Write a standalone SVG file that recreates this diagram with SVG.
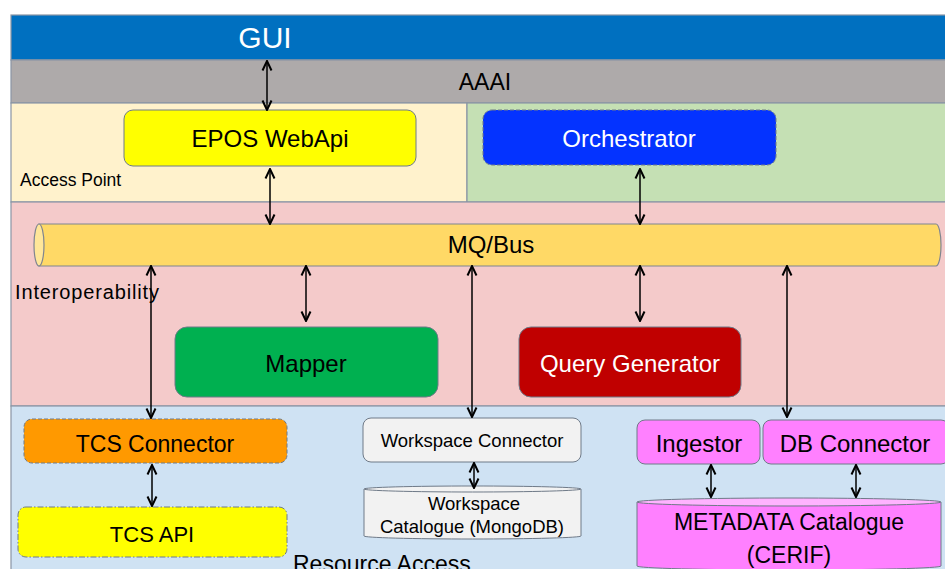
<svg xmlns="http://www.w3.org/2000/svg" width="945" height="569" viewBox="0 0 945 569">
<style>
text{font-family:"Liberation Sans",Arial,sans-serif;fill:#000}
.band{stroke:#8a95a5;stroke-width:1.2}
.node{stroke:#6f7a88;stroke-width:1}
.dash{stroke-dasharray:4 2}
.dashdot{stroke-dasharray:6 2 1.5 2}
.c{text-anchor:middle}
.lbl{font-size:24px}
.w{fill:#fff}
.conn line{stroke:#000;stroke-width:1.5;marker-start:url(#arr);marker-end:url(#arr)}
</style>
<defs>
<marker id="arr" viewBox="0 0 12 12" markerWidth="12" markerHeight="12" refX="11" refY="6" orient="auto-start-reverse" markerUnits="userSpaceOnUse">
<path d="M1.5,1.5 L11,6 L1.5,10.5" fill="none" stroke="#000" stroke-width="2"/>
</marker>
</defs>
<rect width="945" height="569" fill="#fff"/>
<g id="bands">
<rect class="band" x="11" y="15" width="940" height="45" fill="#0070C0"/>
<rect class="band" x="11" y="60" width="940" height="43" fill="#AEAAAA"/>
<rect class="band" x="11" y="103" width="456" height="99" fill="#FFF2CC"/>
<rect class="band" x="467" y="103" width="484" height="99" fill="#C5E0B4"/>
<rect class="band" x="11" y="202" width="940" height="204" fill="#F4CACA"/>
<rect class="band" x="11" y="406" width="940" height="170" fill="#CFE2F3"/>
<text class="c w" x="265" y="48" font-size="30">GUI</text>
<text class="c" x="485" y="90" font-size="23">AAAI</text>
<text x="20" y="186" font-size="17.5">Access Point</text>
<text x="15" y="299" font-size="20" textLength="144" lengthAdjust="spacing">Interoperability</text>
<text x="293" y="572" font-size="23">Resource Access</text>
</g>
<g id="epos-webapi">
<rect class="node" x="124" y="110" width="292" height="56" rx="9" fill="#FFFF00"/>
<text class="c lbl" x="270" y="147" font-size="23">EPOS WebApi</text>
</g>
<g id="orchestrator">
<rect class="node dash" x="483" y="110" width="293" height="55" rx="9" fill="#0433FF"/>
<text class="c lbl w" x="629" y="147">Orchestrator</text>
</g>
<g id="mq-bus">
<path d="M39,224 H936 A5,21 0 0 1 936,266 H39 Z" fill="#FFD966" stroke="#7f8590" stroke-width="1.2"/>
<ellipse cx="39" cy="245" rx="5" ry="21" fill="#FFE699" stroke="#7f8590" stroke-width="1.2"/>
<text class="c lbl" x="491" y="253">MQ/Bus</text>
</g>
<g id="mapper">
<rect class="node" x="175" y="327" width="263" height="70" rx="12" fill="#00B050"/>
<text class="c lbl" x="306" y="372">Mapper</text>
</g>
<g id="query-generator">
<rect class="node" x="519" y="327" width="222" height="70" rx="12" fill="#C00000"/>
<text class="c lbl w" x="630" y="372">Query Generator</text>
</g>
<g id="tcs-connector">
<rect class="node dash" x="24" y="419" width="263" height="44" rx="8" fill="#FF9900"/>
<text class="c" x="155" y="452" font-size="23">TCS Connector</text>
</g>
<g id="tcs-api">
<rect class="node dashdot" x="18" y="507" width="269" height="50" rx="8" fill="#FFFF00"/>
<text class="c" x="152" y="542" font-size="22">TCS API</text>
</g>
<g id="workspace-connector">
<rect class="node" x="363" y="418" width="218" height="44" rx="8" fill="#F2F2F2"/>
<text class="c" x="472" y="447" font-size="18.5">Workspace Connector</text>
</g>
<g id="workspace-catalogue">
<path d="M364,489 V536 A108.5,3 0 0 0 581,536 V489" fill="#F2F2F2" stroke="#6f7a88" stroke-width="1"/>
<ellipse cx="472.5" cy="489" rx="108.5" ry="3" fill="#F2F2F2" stroke="#6f7a88" stroke-width="1"/>
<text class="c" x="474" y="510" font-size="18.5">Workspace</text>
<text class="c" x="472" y="533" font-size="18.5">Catalogue (MongoDB)</text>
</g>
<g id="ingestor">
<rect class="node" x="637" y="420" width="123" height="44" rx="8" fill="#FF80FF"/>
<text class="c lbl" x="699" y="452">Ingestor</text>
</g>
<g id="db-connector">
<rect class="node" x="763" y="420" width="186" height="44" rx="8" fill="#FF80FF"/>
<text class="c lbl" x="855" y="452">DB Connector</text>
</g>
<g id="metadata-catalogue">
<path d="M637,502 V566 A152,4 0 0 0 941,566 V502" fill="#FF80FF" stroke="#6f7a88" stroke-width="1"/>
<ellipse cx="789" cy="502" rx="152" ry="4" fill="#FFB3FF" stroke="#6f7a88" stroke-width="1"/>
<text class="c" x="789" y="530" font-size="23">METADATA Catalogue</text>
<text class="c" x="789" y="563" font-size="23">(CERIF)</text>
</g>
<g id="connectors" class="conn">
<line x1="267" y1="61" x2="267" y2="110"/>
<line x1="270" y1="169" x2="270" y2="224"/>
<line x1="640" y1="169" x2="640" y2="224"/>
<line x1="151" y1="266" x2="151" y2="418"/>
<line x1="306" y1="266" x2="306" y2="321"/>
<line x1="472" y1="266" x2="472" y2="417"/>
<line x1="640" y1="266" x2="640" y2="321"/>
<line x1="787" y1="266" x2="787" y2="417"/>
<line x1="152" y1="465" x2="152" y2="506"/>
<line x1="474" y1="463" x2="474" y2="488"/>
<line x1="711" y1="465" x2="711" y2="497"/>
<line x1="856" y1="465" x2="856" y2="497"/>
</g>
</svg>
